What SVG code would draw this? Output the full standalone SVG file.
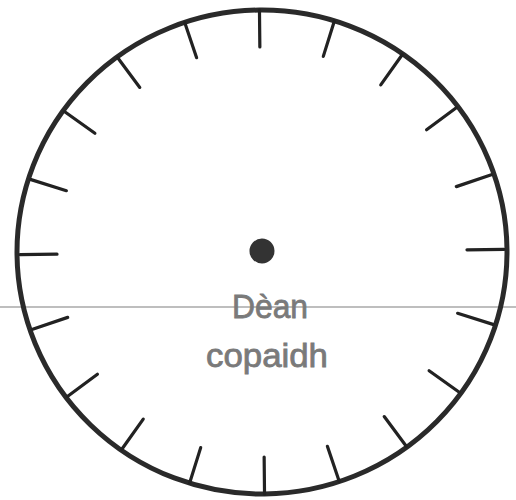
<svg xmlns="http://www.w3.org/2000/svg" width="516" height="500" viewBox="0 0 516 500">
<style>
.tick{stroke:#222;stroke-width:3.2;stroke-linecap:round}
.lbl{font-family:"Liberation Sans",Arial,sans-serif;font-size:33px;fill:#7a7a7a;stroke:#7a7a7a;stroke-width:0.8;text-anchor:middle}
</style>
<rect width="516" height="500" fill="#fff"/>
<line x1="0" y1="307" x2="516" y2="307" stroke="#a8a8a8" stroke-width="1.5"/>
<g id="clock" transform="rotate(-0.6 262 252)">
<ellipse cx="262" cy="252" rx="245" ry="242" fill="none" stroke="#2a2a2a" stroke-width="5"/>
<g id="ticks">
<line class="tick" x1="262" y1="10" x2="262" y2="47" transform="rotate(0 262 252)"/>
<line class="tick" x1="262" y1="10" x2="262" y2="47" transform="rotate(18 262 252)"/>
<line class="tick" x1="262" y1="10" x2="262" y2="47" transform="rotate(36 262 252)"/>
<line class="tick" x1="262" y1="10" x2="262" y2="47" transform="rotate(54 262 252)"/>
<line class="tick" x1="262" y1="10" x2="262" y2="47" transform="rotate(72 262 252)"/>
<line class="tick" x1="262" y1="10" x2="262" y2="47" transform="rotate(90 262 252)"/>
<line class="tick" x1="262" y1="10" x2="262" y2="47" transform="rotate(108 262 252)"/>
<line class="tick" x1="262" y1="10" x2="262" y2="47" transform="rotate(126 262 252)"/>
<line class="tick" x1="262" y1="10" x2="262" y2="47" transform="rotate(144 262 252)"/>
<line class="tick" x1="262" y1="10" x2="262" y2="47" transform="rotate(162 262 252)"/>
<line class="tick" x1="262" y1="10" x2="262" y2="47" transform="rotate(180 262 252)"/>
<line class="tick" x1="262" y1="10" x2="262" y2="47" transform="rotate(198 262 252)"/>
<line class="tick" x1="262" y1="10" x2="262" y2="47" transform="rotate(216 262 252)"/>
<line class="tick" x1="262" y1="10" x2="262" y2="47" transform="rotate(234 262 252)"/>
<line class="tick" x1="262" y1="10" x2="262" y2="47" transform="rotate(252 262 252)"/>
<line class="tick" x1="262" y1="10" x2="262" y2="47" transform="rotate(270 262 252)"/>
<line class="tick" x1="262" y1="10" x2="262" y2="47" transform="rotate(288 262 252)"/>
<line class="tick" x1="262" y1="10" x2="262" y2="47" transform="rotate(306 262 252)"/>
<line class="tick" x1="262" y1="10" x2="262" y2="47" transform="rotate(324 262 252)"/>
<line class="tick" x1="262" y1="10" x2="262" y2="47" transform="rotate(342 262 252)"/>
</g>
<circle id="hub" cx="262" cy="251" r="12.5" fill="#333"/>
</g>
<text class="lbl" x="270" y="318" textLength="76" lengthAdjust="spacingAndGlyphs">Dèan</text>
<text class="lbl" x="267" y="367" textLength="122" lengthAdjust="spacingAndGlyphs">copaidh</text>
</svg>
